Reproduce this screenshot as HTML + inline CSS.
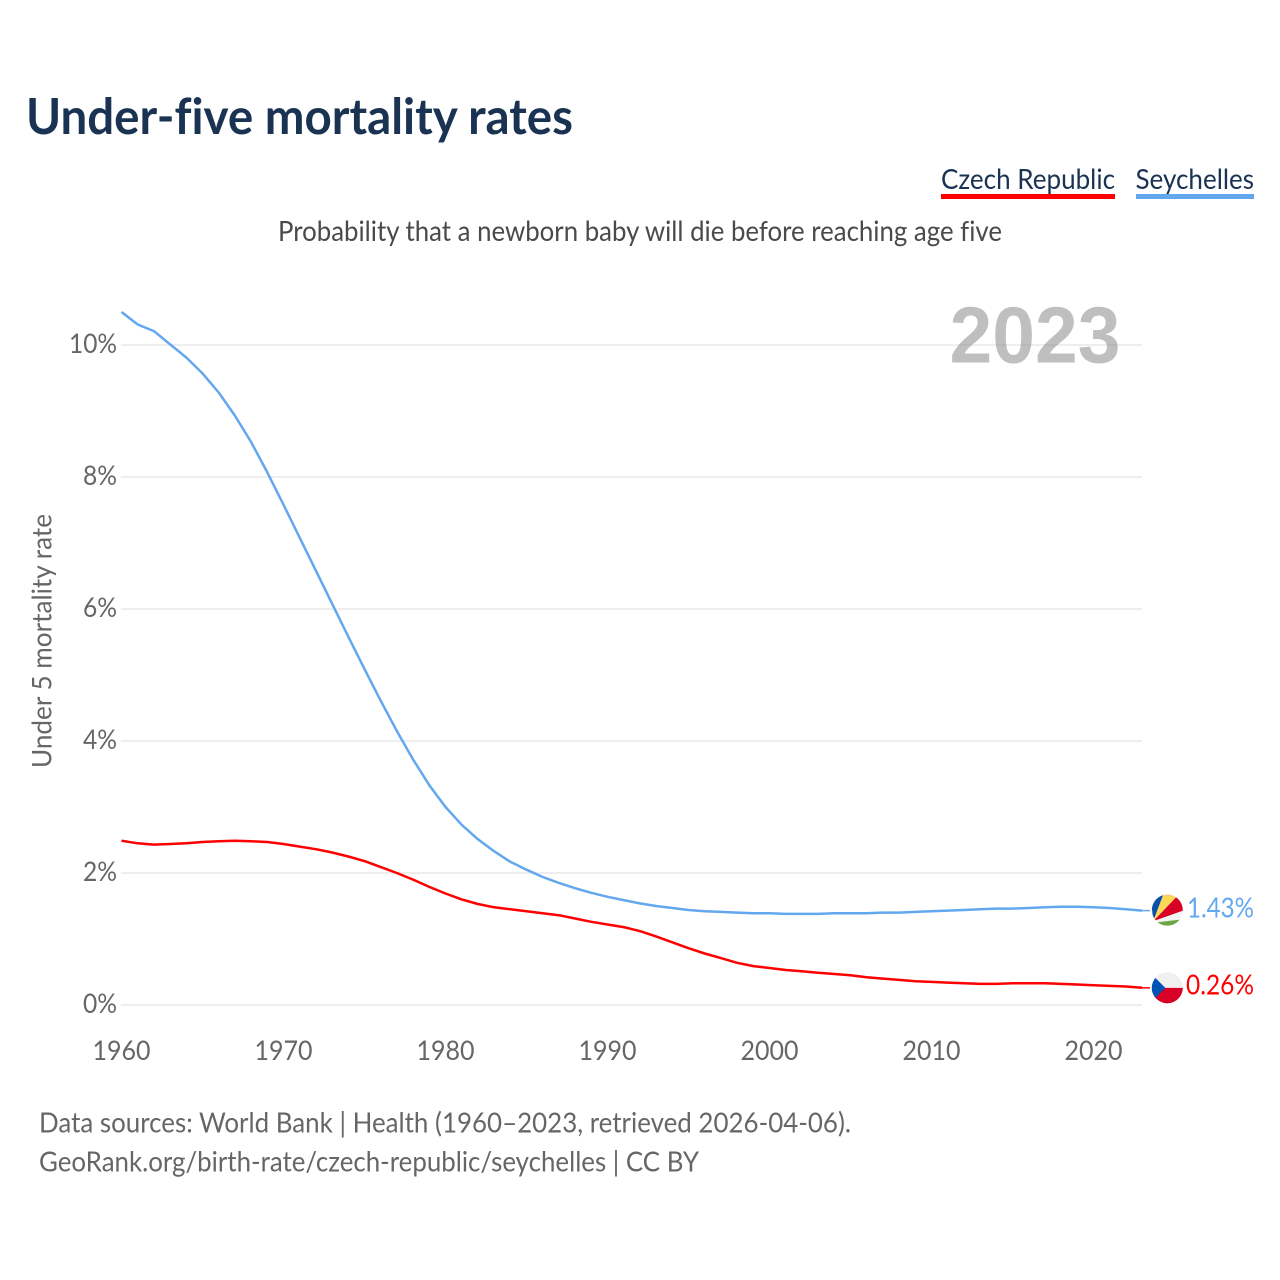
<!DOCTYPE html>
<html lang="en">
<head>
<meta charset="utf-8">
<title>Under-five mortality rates</title>
<style>
html,body{margin:0;padding:0;background:#fff;width:1280px;height:1280px;overflow:hidden}
svg{display:block}
text{font-family:"Lato","Carlito","Liberation Sans",sans-serif;font-variant-ligatures:none}
</style>
</head>
<body>
<svg id="chart" xmlns="http://www.w3.org/2000/svg" width="1280" height="1280" viewBox="0 0 1280 1280">
  <rect width="1280" height="1280" fill="#fff"/>
  <text x="26" y="134" font-size="50" font-weight="700" fill="#1a3353" textLength="547" lengthAdjust="spacingAndGlyphs">Under-five mortality rates</text>
  <g>
    <text x="941" y="189" font-size="28.5" fill="#1a3353" textLength="174" lengthAdjust="spacingAndGlyphs">Czech Republic</text>
    <rect x="941" y="194" width="174" height="5" fill="#ff0000"/>
  </g>
  <g>
    <text x="1135.5" y="189" font-size="28.5" fill="#1a3353" textLength="118.5" lengthAdjust="spacingAndGlyphs">Seychelles</text>
    <rect x="1136" y="194" width="118" height="5" fill="#63a8ee"/>
  </g>
  <text x="278" y="241" font-size="28.5" fill="#4a4a4a" textLength="724" lengthAdjust="spacingAndGlyphs">Probability that a newborn baby will die before reaching age five</text>
  <g id="grid"></g>
  <g id="yticks"></g>
  <g id="xticks"></g>
  <text x="949.5" y="362.5" font-size="80" font-weight="700" fill="#808080" fill-opacity="0.5" textLength="171" lengthAdjust="spacingAndGlyphs" style="font-family:'Liberation Sans',sans-serif">2023</text>
  <text transform="translate(51.5 768) rotate(-90)" x="0" y="0" font-size="27.5" fill="#666" textLength="254" lengthAdjust="spacingAndGlyphs">Under 5 mortality rate</text>
  <g id="series"></g>
  <g id="ends"></g>
  <text x="39" y="1132.5" font-size="28.5" fill="#666" textLength="812" lengthAdjust="spacingAndGlyphs">Data sources: World Bank | Health (1960–2023, retrieved 2026-04-06).</text>
  <text x="39" y="1171.5" font-size="28.5" fill="#666" textLength="660" lengthAdjust="spacingAndGlyphs">GeoRank.org/birth-rate/czech-republic/seychelles | CC BY</text>
</svg>
<script>
const startYear = 1960;
const seychellesValues = [10.5,10.31,10.21,10.01,9.81,9.57,9.28,8.93,8.53,8.07,7.58,7.08,6.58,6.08,5.58,5.09,4.61,4.15,3.72,3.33,3.0,2.73,2.51,2.33,2.17,2.05,1.94,1.85,1.77,1.7,1.64,1.59,1.54,1.5,1.47,1.44,1.42,1.41,1.4,1.39,1.39,1.38,1.38,1.38,1.39,1.39,1.39,1.4,1.4,1.41,1.42,1.43,1.44,1.45,1.46,1.46,1.47,1.48,1.49,1.49,1.48,1.47,1.45,1.43];
const czechValues = [2.49,2.45,2.43,2.44,2.45,2.47,2.48,2.49,2.48,2.47,2.44,2.4,2.36,2.31,2.25,2.18,2.09,2.0,1.9,1.79,1.69,1.6,1.53,1.48,1.45,1.42,1.39,1.36,1.31,1.26,1.22,1.18,1.12,1.04,0.95,0.86,0.78,0.71,0.64,0.59,0.56,0.53,0.51,0.49,0.47,0.45,0.42,0.4,0.38,0.36,0.35,0.34,0.33,0.32,0.32,0.33,0.33,0.33,0.32,0.31,0.3,0.29,0.28,0.26];
const yTickValues = [0,2,4,6,8,10];
const xTickYears = [1960,1970,1980,1990,2000,2010,2020];

const NS = 'http://www.w3.org/2000/svg';
const xScale = function (year) { return 121.5 + (year - 1960) * 16.2; };
const yScale = function (v) { return 1005 - v * 66; };

function make(tag, parent, attrs) {
  const el = document.createElementNS(NS, tag);
  Object.keys(attrs).forEach(function (k) { el.setAttribute(k, attrs[k]); });
  parent.appendChild(el);
  return el;
}

const grid = document.getElementById('grid');
const yticks = document.getElementById('yticks');
yTickValues.forEach(function (v) {
  const line = make('line', grid, {x1: 121, x2: 1142, y1: yScale(v), y2: yScale(v), stroke: '#eeeeee', 'stroke-width': 2});
  
  
  const label = v + '%';
  const t = make('text', yticks, {x: 117, y: yScale(v) + 8, 'text-anchor': 'end', 'font-size': 27, fill: '#666', textLength: 14 * label.length + 6, lengthAdjust: 'spacingAndGlyphs'});
  
  
  t.textContent = label;
});

const xticks = document.getElementById('xticks');
xTickYears.forEach(function (yr) {
  const t = make('text', xticks, {x: xScale(yr), y: 1060, 'text-anchor': 'middle', 'font-size': 27, fill: '#666', textLength: 58, lengthAdjust: 'spacingAndGlyphs'});
  
  
  t.textContent = String(yr);
});

function linePath(values) {
  return values.map(function (v, i) {
    return (i ? 'L' : 'M') + xScale(startYear + i).toFixed(1) + ' ' + yScale(v).toFixed(1);
  }).join(' ');
}

const seriesGroup = document.getElementById('series');
const seyLine = make('path', seriesGroup, {d: linePath(seychellesValues), fill: 'none', stroke: '#63a8ee', 'stroke-width': 2.5, 'stroke-linejoin': 'round'});


const czLine = make('path', seriesGroup, {d: linePath(czechValues), fill: 'none', stroke: '#ff0000', 'stroke-width': 2.5, 'stroke-linejoin': 'round'});



const ends = document.getElementById('ends');
const defs = make('defs', ends, {});
const lastYearX = xScale(startYear + seychellesValues.length - 1);
const seyEnd = seychellesValues[seychellesValues.length - 1];
const czEnd = czechValues[czechValues.length - 1];

function clipFor(id, cy) {
  const c = make('clipPath', defs, {id: id});
  make('circle', c, {cx: 1167.3, cy: cy, r: 15.5});
}

function shapes(group, cy, list) {
  list.forEach(function (s) {
    make('polygon', group, {fill: s[0], points: s[1].map(function (p) { return (1167.3 + p[0]) + ',' + (cy + p[1]); }).join(' ')});
  });
}

/* Seychelles end marker */
const seyY = yScale(seyEnd);
clipFor('clip-sey', seyY - 0.5);
const seyLeader = make('line', ends, {x1: lastYearX, x2: 1150, y1: seyY, y2: seyY, stroke: '#63a8ee', 'stroke-width': 1.5});


const seyFlag = make('g', ends, {'clip-path': 'url(#clip-sey)'});


shapes(seyFlag, seyY - 0.5, [
  ['#f3f3f3', [[-17,-17],[17,-17],[17,17],[-17,17]]],
  ['#6da544', [[-17,13],[17,9],[17,17],[-17,17]]],
  ['#0a50a8', [[-14,11],[-17,-17],[-3.4,-17]]],
  ['#fcd856', [[-14,11],[-3.4,-17],[12,-17],[9,-13]]],
  ['#ffb8a8', [[-2,-17],[6,-17],[5,-14.5],[-2,-14.5]]],
  ['#d80027', [[-14,11],[9,-13],[17,-9],[17,0]]]
]);
const seyLabel = make('text', ends, {x: 1254, y: seyY + 7, 'text-anchor': 'end', 'font-size': 28.5, fill: '#63a8ee', textLength: 67, lengthAdjust: 'spacingAndGlyphs'});


seyLabel.textContent = seyEnd.toFixed(2) + '%';

/* Czech end marker */
const czY = yScale(czEnd);
clipFor('clip-cz', czY);
const czLeader = make('line', ends, {x1: lastYearX, x2: 1150, y1: czY, y2: czY, stroke: '#ff0000', 'stroke-width': 1.5});


const czFlag = make('g', ends, {'clip-path': 'url(#clip-cz)'});


shapes(czFlag, czY, [
  ['#f0f0f0', [[-17,-17],[17,-17],[17,0],[-17,0]]],
  ['#d80027', [[-17,0],[17,0],[17,17],[-17,17]]],
  ['#0052b4', [[-18,-16],[-2,0],[-18,16]]]
]);
const czLabel = make('text', ends, {x: 1254, y: czY + 6.5, 'text-anchor': 'end', 'font-size': 28.5, fill: '#ff0000', textLength: 68, lengthAdjust: 'spacingAndGlyphs'});


czLabel.textContent = czEnd.toFixed(2) + '%';
</script>
</body>
</html>
